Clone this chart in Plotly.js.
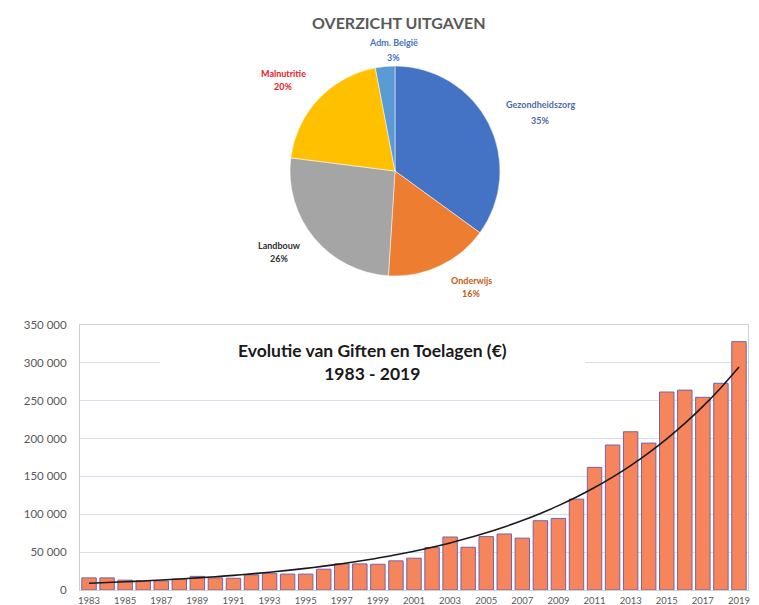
<!DOCTYPE html>
<html><head><meta charset="utf-8">
<script src="https://cdn.plot.ly/plotly-3.0.1.min.js"></script>
<style>html,body{margin:0;padding:0;background:#fff}</style>
</head><body><div id="chart" style="width:759px;height:605px"></div>
<script>
// ---- Data ----
const pieLabels = ['Gezondheidszorg', 'Onderwijs', 'Landbouw', 'Malnutritie', 'Adm. België'];
const pieValues = [35, 16, 26, 20, 3];

const years = [1983, 1984, 1985, 1986, 1987, 1988, 1989, 1990, 1991, 1992,
  1993, 1994, 1995, 1996, 1997, 1998, 1999, 2000, 2001, 2002,
  2003, 2004, 2005, 2006, 2007, 2008, 2009, 2010, 2011, 2012,
  2013, 2014, 2015, 2016, 2017, 2018, 2019];
const giften = [16000, 16000, 13000, 12000, 12000, 14500, 18000, 16000, 15500, 20000,
  22000, 21000, 21000, 27500, 34500, 34500, 34000, 38500, 42000, 56000,
  70000, 56500, 70500, 74000, 68500, 91500, 94500, 120000, 162000, 191500,
  209000, 194000, 261500, 264000, 254500, 273000, 328000];
const xTickYears = [1983, 1985, 1987, 1989, 1991, 1993, 1995, 1997, 1999, 2001,
  2003, 2005, 2007, 2009, 2011, 2013, 2015, 2017, 2019];
const yTickValues = [0, 50000, 100000, 150000, 200000, 250000, 300000, 350000];

// ---- Styles ----
const pieColors = ['#4472C4', '#ED7D31', '#A5A5A5', '#FFC000', '#5B9BD5'];
const pieLabelColors = ['#4F6AA8', '#C55A11', '#303030', '#E8202A', '#4472C4'];
// [x, y of name line, y of percentage line] in pixels
const pieLabelPos = [[540, 105, 120], [471, 280, 293], [279, 245, 259], [283, 73, 87], [393, 43, 57]];

const W = 759, H = 605;
const px = x => x / W, py = y => 1 - y / H;

// Exponential trendline (least squares on ln y), like a spreadsheet trendline
const n = years.length;
let sx = 0, sy = 0, sxx = 0, sxy = 0;
for (let i = 0; i < n; i++) {
  const x = years[i] - years[0], y = Math.log(giften[i]);
  sx += x; sy += y; sxx += x * x; sxy += x * y;
}
const b = (n * sxy - sx * sy) / (n * sxx - sx * sx);
const a = (sy - b * sx) / n;
const trend = years.map(yr => Math.exp(a + b * (yr - years[0])));

const font = 'Lato, "Open Sans", Arial, sans-serif';

const traces = [
  {
    type: 'pie', labels: pieLabels, values: pieValues, sort: false,
    direction: 'clockwise', rotation: 0,
    marker: { colors: pieColors, line: { color: '#ffffff', width: 0.5 } },
    textinfo: 'none', hoverinfo: 'label+percent',
    domain: { x: [px(290), px(500)], y: [py(276), py(66)] }
  },
  {
    type: 'bar', x: years, y: giften,
    marker: { color: '#F7855B', line: { color: '#7462AC', width: 1 } },
    xaxis: 'x', yaxis: 'y'
  },
  {
    type: 'scatter', mode: 'lines', x: years, y: trend,
    line: { color: '#1a1a1a', width: 1.6, shape: 'spline' },
    xaxis: 'x', yaxis: 'y'
  }
];

const annotations = [];
pieLabels.forEach((lab, i) => {
  annotations.push({
    xref: 'paper', yref: 'paper',
    x: px(pieLabelPos[i][0]), y: py(pieLabelPos[i][1]),
    xanchor: 'center', yanchor: 'middle', showarrow: false,
    text: '<b>' + lab + '</b>',
    font: { family: font, size: 9, color: pieLabelColors[i] }
  });
  annotations.push({
    xref: 'paper', yref: 'paper',
    x: px(pieLabelPos[i][0]), y: py(pieLabelPos[i][2]),
    xanchor: 'center', yanchor: 'middle', showarrow: false,
    text: '<b>' + pieValues[i] + '%</b>',
    font: { family: font, size: 9, color: pieLabelColors[i] }
  });
});
annotations.push({
  xref: 'paper', yref: 'paper', x: px(399), y: py(23),
  xanchor: 'center', yanchor: 'middle', showarrow: false,
  text: '<b>OVERZICHT UITGAVEN</b>',
  font: { family: font, size: 16, color: '#595959' }
});
annotations.push({
  xref: 'paper', yref: 'paper', x: px(372), y: py(362),
  xanchor: 'center', yanchor: 'middle', showarrow: false,
  text: '<b>Evolutie van Giften en Toelagen (€)</b><br><b>1983 - 2019</b>',
  font: { family: font, size: 17.5, color: '#1a1a1a' }
});

const layout = {
  width: W, height: H,
  margin: { l: 0, r: 0, t: 0, b: 0 },
  paper_bgcolor: '#ffffff', plot_bgcolor: '#ffffff',
  showlegend: false, separators: '. ',
  bargap: 0.2,
  xaxis: {
    domain: [px(80), px(748)], range: [1982.5, 2019.5],
    tickvals: xTickYears, ticktext: xTickYears.map(String),
    tickfont: { family: font, size: 9.5, color: '#595959' },
    showgrid: false, showline: true, linecolor: '#d0d0d0', mirror: true,
    ticks: '', zeroline: false, fixedrange: true, ticklabelstandoff: 2
  },
  yaxis: {
    domain: [py(590), py(325)], range: [0, 350000],
    tickvals: yTickValues, tickformat: ',d',
    tickfont: { family: font, size: 11.5, color: '#595959' },
    showgrid: true, gridcolor: '#d6dfeb', gridwidth: 1,
    showline: true, linecolor: '#d0d0d0', mirror: true,
    ticks: '', zeroline: false, fixedrange: true, ticklabelstandoff: 10
  },
  shapes: [{
    type: 'rect', xref: 'paper', yref: 'paper', layer: 'above',
    x0: px(160), x1: px(585), y0: py(392), y1: py(336),
    fillcolor: '#ffffff', line: { width: 0 }
  }],
  annotations: annotations
};

Plotly.newPlot('chart', traces, layout, { displayModeBar: false, staticPlot: true });
</script>
</body></html>
